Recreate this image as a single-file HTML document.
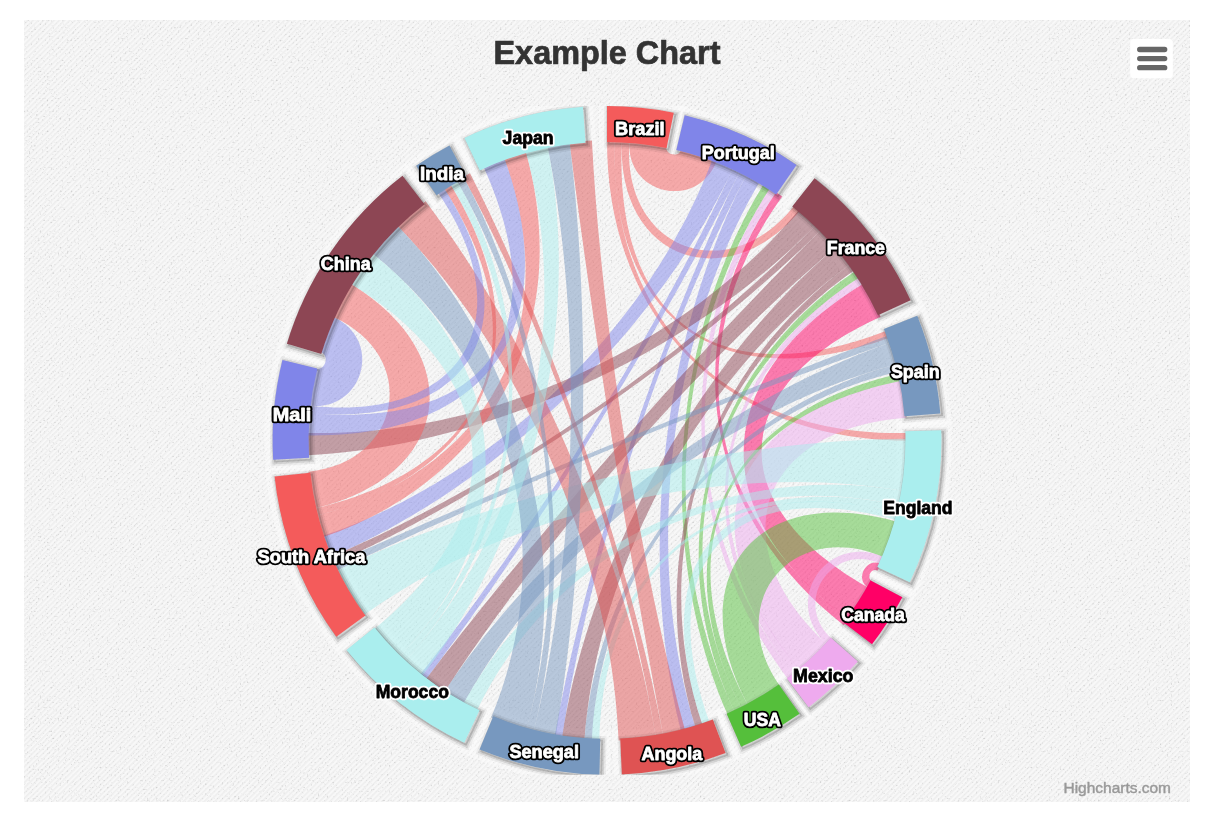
<!DOCTYPE html>
<html>
<head>
<meta charset="utf-8">
<title>Example Chart</title>
<style>
html,body{margin:0;padding:0;background:#ffffff;}
body{width:1212px;height:822px;overflow:hidden;position:relative;font-family:"Liberation Sans",sans-serif;}
#chart{position:absolute;left:24px;top:20px;width:1166px;height:782px;background:#f2f2f2;overflow:hidden;}
svg{position:absolute;left:0;top:0;}
</style>
</head>
<body>
<div id="chart"></div>
<svg width="1212" height="822" viewBox="0 0 1212 822">
<defs>
<pattern id="sand" width="3.7" height="3.7" patternUnits="userSpaceOnUse" patternTransform="rotate(-45)">
<rect width="3.7" height="3.7" fill="#f8f8f8"/>
<rect y="0" width="3.7" height="1.5" fill="#eeeeee"/>
</pattern>
<filter id="noise" x="0" y="0" width="100%" height="100%">
<feTurbulence type="fractalNoise" baseFrequency="0.55" numOctaves="1" seed="7" result="n"/>
<feColorMatrix type="matrix" values="0 0 0 0 0  0 0 0 0 0  0 0 0 0 0  3 0 0 0 -1.8"/>
</filter>
</defs>
<rect x="24" y="20" width="1166" height="782" fill="url(#sand)"/>
<rect x="24" y="20" width="1166" height="782" filter="url(#noise)" opacity="0.2"/>
<text x="607" y="64.4" text-anchor="middle" font-family="Liberation Sans, sans-serif" font-weight="bold" font-size="33" fill="#333333" stroke="#333333" stroke-width="0.7" opacity="0.999" textLength="227" lengthAdjust="spacingAndGlyphs">Example Chart</text>
<clipPath id="plot"><rect x="42" y="106" width="1130" height="668.8"/></clipPath>
<g clip-path="url(#plot)">
<g class="halo" fill="none" stroke="#ffffff" stroke-opacity="0.32" stroke-width="19" transform="translate(1.1,1.1)">
<path d="M607 106A334.4 334.4 0 0 1 673.73 112.73L666.56 147.93A298.47 298.47 0 0 0 607 141.93Z"/>
<path d="M684.66 115.14A334.4 334.4 0 0 1 796.56 164.92L776.2 194.52A298.47 298.47 0 0 0 676.32 150.09Z"/>
<path d="M814.57 178.22A334.4 334.4 0 0 1 910.63 300.28L878.01 315.34A298.47 298.47 0 0 0 792.27 206.39Z"/>
<path d="M917.28 315.7A334.4 334.4 0 0 1 940.31 413.42L904.5 416.32A298.47 298.47 0 0 0 883.94 329.1Z"/>
<path d="M941.24 430.18A334.4 334.4 0 0 1 909.8 582.29L877.27 567.05A298.47 298.47 0 0 0 905.33 431.28Z"/>
<path d="M902.3 597.32A334.4 334.4 0 0 1 872.02 644.33L843.55 622.42A298.47 298.47 0 0 0 870.57 580.46Z"/>
<path d="M857.78 661.61A334.4 334.4 0 0 1 808.59 707.2L786.93 678.54A298.47 298.47 0 0 0 830.84 637.84Z"/>
<path d="M799.55 713.8A334.4 334.4 0 0 1 741.12 746.73L726.71 713.81A298.47 298.47 0 0 0 778.86 684.43Z"/>
<path d="M725.57 753.07A334.4 334.4 0 0 1 621.83 774.47L620.24 738.58A298.47 298.47 0 0 0 712.83 719.48Z"/>
<path d="M599.44 774.71A334.4 334.4 0 0 1 479.58 749.57L493.27 716.35A298.47 298.47 0 0 0 600.25 738.8Z"/>
<path d="M464.22 742.79A334.4 334.4 0 0 1 346.48 650.05L374.47 627.52A298.47 298.47 0 0 0 479.56 710.3Z"/>
<path d="M336.28 636.71A334.4 334.4 0 0 1 274.56 476.58L310.28 472.69A298.47 298.47 0 0 0 365.37 615.61Z"/>
<path d="M273.17 459.84A334.4 334.4 0 0 1 282.44 359.88L317.31 368.53A298.47 298.47 0 0 0 309.03 457.75Z"/>
<path d="M286.89 343.69A334.4 334.4 0 0 1 402.52 175.81L424.49 204.24A298.47 298.47 0 0 0 321.28 354.08Z"/>
<path d="M416.06 165.87A334.4 334.4 0 0 1 449.47 145.43L466.39 177.12A298.47 298.47 0 0 0 436.57 195.37Z"/>
<path d="M464.47 137.9A334.4 334.4 0 0 1 582.95 106.87L585.53 142.7A298.47 298.47 0 0 0 479.79 170.4Z"/>
</g>
<g class="links">
<path d="M629.42 140.97A298.47 298.47 0 0 1 666.44 146.07C664.64 154.94 678.9 158.2 681.14 149.43A298.47 298.47 0 0 1 716.71 160.89C697.01 211.08 625.39 194.74 629.42 140.97Z" fill="#f45b5b" fill-opacity="0.5"/>
<path d="M621.95 140.5A298.47 298.47 0 0 1 629.42 140.97C621.36 248.51 726.99 289.97 794.24 205.66A298.47 298.47 0 0 1 800.03 210.4C724.93 299.88 616.13 257.18 621.95 140.5Z" fill="#f45b5b" fill-opacity="0.5"/>
<path d="M614.48 140.22A298.47 298.47 0 0 1 621.95 140.5C612.98 320.44 718.8 396.52 886.51 330.69A298.47 298.47 0 0 1 889.16 337.69C719.86 399.32 609.99 320.33 614.48 140.22Z" fill="#f45b5b" fill-opacity="0.5"/>
<path d="M607 140.13A298.47 298.47 0 0 1 614.48 140.22C609.99 320.33 727.07 437.41 907.18 432.92A298.47 298.47 0 0 1 907.27 440.4C727.11 440.4 607 320.29 607 140.13Z" fill="#f45b5b" fill-opacity="0.5"/>
<path d="M848.22 619.21A298.47 298.47 0 0 1 843.69 625.16C701.68 514.3 674.64 341.15 776.09 192.27A298.47 298.47 0 0 1 782.22 196.56C677.09 342.86 703.49 511.92 848.22 619.21Z" fill="#ff0066" fill-opacity="0.5"/>
<path d="M868.57 587.86A298.47 298.47 0 0 1 848.22 619.21C703.49 511.92 709.47 377.75 863.18 283.77A298.47 298.47 0 0 1 880.65 316.8C726.71 386.33 721.42 504.91 868.57 587.86Z" fill="#ff0066" fill-opacity="0.5"/>
<path d="M872.16 581.3A298.47 298.47 0 0 1 868.57 587.86C854.45 579.9 865.98 557.12 880.75 563.78A298.47 298.47 0 0 1 877.59 570.55C871.08 567.42 865.77 577.91 872.16 581.3Z" fill="#ff0066" fill-opacity="0.5"/>
<path d="M794.31 675.08A298.47 298.47 0 0 1 788.41 679.67C679.56 536.11 672.14 339.49 769.86 188.14A298.47 298.47 0 0 1 776.09 192.27C674.64 341.15 681.93 534.27 794.31 675.08Z" fill="#eeaaee" fill-opacity="0.5"/>
<path d="M800.1 670.34A298.47 298.47 0 0 1 794.31 675.08C681.93 534.27 707.88 375.21 859.2 277.43A298.47 298.47 0 0 1 863.18 283.77C709.47 377.75 684.24 532.38 800.1 670.34Z" fill="#eeaaee" fill-opacity="0.5"/>
<path d="M827.17 644.58A298.47 298.47 0 0 1 800.1 670.34C684.24 532.38 724.72 416.58 901.3 380.84A298.47 298.47 0 0 1 906.42 417.86C758.59 428.99 718.47 543.77 827.17 644.58Z" fill="#eeaaee" fill-opacity="0.5"/>
<path d="M832.18 639.03A298.47 298.47 0 0 1 827.17 644.58C781.03 601.79 825.75 532.5 883.74 556.92A298.47 298.47 0 0 1 880.75 563.78C831.57 541.61 791.73 603.35 832.18 639.03Z" fill="#eeaaee" fill-opacity="0.5"/>
<path d="M734.69 712.17A298.47 298.47 0 0 1 727.88 715.26C655.35 550.34 669.61 337.9 763.53 184.16A298.47 298.47 0 0 1 769.86 188.14C672.14 339.49 658.08 549.11 734.69 712.17Z" fill="#55BF3B" fill-opacity="0.5"/>
<path d="M741.42 708.9A298.47 298.47 0 0 1 734.69 712.17C658.08 549.11 706.22 372.72 855.06 271.2A298.47 298.47 0 0 1 859.2 277.43C707.88 375.21 660.77 547.8 741.42 708.9Z" fill="#55BF3B" fill-opacity="0.5"/>
<path d="M748.06 705.47A298.47 298.47 0 0 1 741.42 708.9C660.77 547.8 724.09 413.65 899.73 373.53A298.47 298.47 0 0 1 901.3 380.84C724.72 416.58 663.42 546.43 748.06 705.47Z" fill="#55BF3B" fill-opacity="0.5"/>
<path d="M779.9 685.9A298.47 298.47 0 0 1 748.06 705.47C679.69 577 755.97 482.27 896.07 521.64A298.47 298.47 0 0 1 883.74 556.92C790.97 517.86 721.94 603.6 779.9 685.9Z" fill="#55BF3B" fill-opacity="0.5"/>
<path d="M746.58 174.54A298.47 298.47 0 0 1 759.64 181.82C668.06 336.97 642.37 555.18 695.42 727.36A298.47 298.47 0 0 1 681.02 731.4C636.61 556.8 662.83 334.06 746.58 174.54Z" fill="#8085e9" fill-opacity="0.5"/>
<path d="M739.91 171.15A298.47 298.47 0 0 1 746.58 174.54C662.83 334.06 589.07 559.16 562.17 737.3A298.47 298.47 0 0 1 554.79 736.09C586.12 558.68 660.17 332.7 739.91 171.15Z" fill="#8085e9" fill-opacity="0.5"/>
<path d="M733.17 167.92A298.47 298.47 0 0 1 739.91 171.15C660.17 332.7 534.46 536.13 425.66 679.73A298.47 298.47 0 0 1 419.76 675.14C532.1 534.29 657.47 331.41 733.17 167.92Z" fill="#8085e9" fill-opacity="0.5"/>
<path d="M712.47 159.27A298.47 298.47 0 0 1 733.17 167.92C657.47 331.41 496.32 487.05 330.31 557.03A298.47 298.47 0 0 1 322.37 536.05C493.15 478.66 649.19 327.95 712.47 159.27Z" fill="#8085e9" fill-opacity="0.5"/>
<path d="M850.13 264.19A298.47 298.47 0 0 1 854.44 270.3C705.98 372.36 645.21 554.27 702.53 725.06A298.47 298.47 0 0 1 695.42 727.36C642.37 555.18 704.25 369.92 850.13 264.19Z" fill="#8d4654" fill-opacity="0.5"/>
<path d="M836.3 246.53A298.47 298.47 0 0 1 850.13 264.19C704.25 369.92 597.98 560.17 584.46 739.82A298.47 298.47 0 0 1 562.17 737.3C589.07 559.16 698.72 362.85 836.3 246.53Z" fill="#8d4654" fill-opacity="0.5"/>
<path d="M799.19 209.7A298.47 298.47 0 0 1 815.88 224.69C690.55 354.12 487.04 446.38 307.1 455.35A298.47 298.47 0 0 1 306.82 432.92C486.93 437.41 683.88 348.12 799.19 209.7Z" fill="#8d4654" fill-opacity="0.5"/>
<path d="M821.18 229.96A298.47 298.47 0 0 1 836.3 246.53C698.72 362.85 541.81 541.28 444.03 692.6A298.47 298.47 0 0 1 425.66 679.73C534.46 536.13 692.67 356.22 821.18 229.96Z" fill="#8d4654" fill-opacity="0.5"/>
<path d="M815.88 224.69A298.47 298.47 0 0 1 821.18 229.96C692.67 356.22 497.52 489.8 333.3 563.89A298.47 298.47 0 0 1 330.31 557.03C496.32 487.05 690.55 354.12 815.88 224.69Z" fill="#8d4654" fill-opacity="0.5"/>
<path d="M897.36 363.9A298.47 298.47 0 0 1 899.18 371.16C723.87 412.7 600.97 560.36 591.93 740.29A298.47 298.47 0 0 1 584.46 739.82C597.98 560.17 723.14 409.8 897.36 363.9Z" fill="#7798BF" fill-opacity="0.5"/>
<path d="M890.84 342.44A298.47 298.47 0 0 1 897.36 363.9C723.14 409.8 549.53 545.86 463.32 704.06A298.47 298.47 0 0 1 444.03 692.6C541.81 541.28 720.54 401.22 890.84 342.44Z" fill="#7798BF" fill-opacity="0.5"/>
<path d="M888.31 335.4A298.47 298.47 0 0 1 890.84 342.44C720.54 401.22 498.78 492.51 336.46 570.67A298.47 298.47 0 0 1 333.3 563.89C497.52 489.8 719.53 398.4 888.31 335.4Z" fill="#7798BF" fill-opacity="0.5"/>
<path d="M898.42 512.77A298.47 298.47 0 0 1 896.52 520.01C730.84 474.45 650.88 561.11 709.59 722.6A298.47 298.47 0 0 1 702.53 725.06C645.21 554.27 723.57 469.35 898.42 512.77Z" fill="#aaeeee" fill-opacity="0.5"/>
<path d="M900.13 505.49A298.47 298.47 0 0 1 898.42 512.77C723.57 469.35 603.96 560.47 599.4 740.57A298.47 298.47 0 0 1 591.93 740.29C600.97 560.36 724.25 466.44 900.13 505.49Z" fill="#aaeeee" fill-opacity="0.5"/>
<path d="M903.01 490.82A298.47 298.47 0 0 1 900.13 505.49C724.25 466.44 554.85 548.59 476.62 710.89A298.47 298.47 0 0 1 463.32 704.06C549.53 545.86 725.4 460.57 903.01 490.82Z" fill="#aaeeee" fill-opacity="0.5"/>
<path d="M907.26 438.7A298.47 298.47 0 0 1 903.01 490.82C725.4 460.57 509.46 510.49 363.16 615.62A298.47 298.47 0 0 1 336.46 570.67C498.78 492.51 727.11 439.72 907.26 438.7Z" fill="#aaeeee" fill-opacity="0.5"/>
<path d="M314.56 508.53A298.47 298.47 0 0 1 308.36 471.68C403 461.76 420.04 356.05 333.3 316.91A298.47 298.47 0 0 1 350.76 283.87C470.26 356.87 450.94 476.76 314.56 508.53Z" fill="#f45b5b" fill-opacity="0.5"/>
<path d="M316.35 515.79A298.47 298.47 0 0 1 314.56 508.53C490.03 467.65 541.81 339.52 444.03 188.2A298.47 298.47 0 0 1 450.37 184.22C544.35 337.93 490.74 470.56 316.35 515.79Z" fill="#f45b5b" fill-opacity="0.5"/>
<path d="M322.79 537.28A298.47 298.47 0 0 1 316.35 515.79C490.74 470.56 565.92 327.54 504.29 158.24A298.47 298.47 0 0 1 525.64 151.36C574.46 324.79 493.32 479.15 322.79 537.28Z" fill="#f45b5b" fill-opacity="0.5"/>
<path d="M655.79 736.68A298.47 298.47 0 0 1 618.61 740.44C611.64 560.42 523.1 354.45 397.25 225.54A298.47 298.47 0 0 1 425.56 201.15C534.43 344.7 626.51 558.91 655.79 736.68Z" fill="#DF5353" fill-opacity="0.5"/>
<path d="M663.15 735.37A298.47 298.47 0 0 1 655.79 736.68C626.51 558.91 549.53 334.94 463.32 176.74A298.47 298.47 0 0 1 469.93 173.24C552.17 333.54 629.46 558.39 663.15 735.37Z" fill="#DF5353" fill-opacity="0.5"/>
<path d="M685.01 730.36A298.47 298.47 0 0 1 663.15 735.37C629.46 558.39 592.03 321.23 569.58 142.47A298.47 298.47 0 0 1 591.93 140.51C600.97 320.44 638.21 556.38 685.01 730.36Z" fill="#DF5353" fill-opacity="0.5"/>
<path d="M526.42 729.66A298.47 298.47 0 0 1 491.12 717.41C560.65 551.2 513.07 365.54 372.19 253.25A298.47 298.47 0 0 1 397.25 225.54C523.1 354.45 574.77 556.1 526.42 729.66Z" fill="#7798BF" fill-opacity="0.5"/>
<path d="M533.65 731.57A298.47 298.47 0 0 1 526.42 729.66C574.77 556.1 546.92 336.4 456.79 180.4A298.47 298.47 0 0 1 463.32 176.74C549.53 334.94 577.66 556.87 533.65 731.57Z" fill="#7798BF" fill-opacity="0.5"/>
<path d="M555.59 736.24A298.47 298.47 0 0 1 533.65 731.57C577.66 556.87 583.18 322.68 547.44 146.1A298.47 298.47 0 0 1 569.58 142.47C592.03 321.23 586.44 558.73 555.59 736.24Z" fill="#7798BF" fill-opacity="0.5"/>
<path d="M308.76 405.6A298.47 298.47 0 0 1 315.39 368.82C325.64 371.34 330.17 354.98 320.08 351.87A298.47 298.47 0 0 1 333.3 316.91C383.82 339.71 363.81 412.02 308.76 405.6Z" fill="#8085e9" fill-opacity="0.5"/>
<path d="M307.98 413.03A298.47 298.47 0 0 1 308.76 405.6C461.94 423.47 524.71 319.75 437.8 192.34A298.47 298.47 0 0 1 444.03 188.2C532.61 325.27 470.5 427.91 307.98 413.03Z" fill="#8085e9" fill-opacity="0.5"/>
<path d="M306.77 435.43A298.47 298.47 0 0 1 307.98 413.03C487.39 429.45 557.6 330.92 483.51 166.7A298.47 298.47 0 0 1 504.29 158.24C565.92 327.54 486.91 438.41 306.77 435.43Z" fill="#8085e9" fill-opacity="0.5"/>
<path d="M399.07 657.02A298.47 298.47 0 0 1 373.77 629.51C513.71 516.05 504.5 377.79 350.76 283.87A298.47 298.47 0 0 1 372.19 253.25C513.07 365.54 523.83 527.05 399.07 657.02Z" fill="#aaeeee" fill-opacity="0.5"/>
<path d="M404.53 662.13A298.47 298.47 0 0 1 399.07 657.02C523.83 527.05 544.35 337.93 450.37 184.22A298.47 298.47 0 0 1 456.79 180.4C546.92 336.4 526.01 529.09 404.53 662.13Z" fill="#aaeeee" fill-opacity="0.5"/>
<path d="M421.64 676.63A298.47 298.47 0 0 1 404.53 662.13C526.01 529.09 574.46 324.79 525.64 151.36A298.47 298.47 0 0 1 547.44 146.1C583.18 322.68 532.86 534.89 421.64 676.63Z" fill="#aaeeee" fill-opacity="0.5"/>
</g>
<g class="nodes">
<path d="M607 106A334.4 334.4 0 0 1 673.73 112.73L666.56 147.93A298.47 298.47 0 0 0 607 141.93Z" fill="none" stroke="#000" stroke-opacity="0.05" stroke-width="8.98" transform="translate(1.7964,1.7964)"/>
<path d="M607 106A334.4 334.4 0 0 1 673.73 112.73L666.56 147.93A298.47 298.47 0 0 0 607 141.93Z" fill="none" stroke="#000" stroke-opacity="0.1" stroke-width="5.39" transform="translate(1.7964,1.7964)"/>
<path d="M607 106A334.4 334.4 0 0 1 673.73 112.73L666.56 147.93A298.47 298.47 0 0 0 607 141.93Z" fill="none" stroke="#000" stroke-opacity="0.15" stroke-width="1.8" transform="translate(1.7964,1.7964)"/>
<path d="M607 106A334.4 334.4 0 0 1 673.73 112.73L666.56 147.93A298.47 298.47 0 0 0 607 141.93Z" fill="#f45b5b"/>
<path d="M684.66 115.14A334.4 334.4 0 0 1 796.56 164.92L776.2 194.52A298.47 298.47 0 0 0 676.32 150.09Z" fill="none" stroke="#000" stroke-opacity="0.05" stroke-width="8.98" transform="translate(1.7964,1.7964)"/>
<path d="M684.66 115.14A334.4 334.4 0 0 1 796.56 164.92L776.2 194.52A298.47 298.47 0 0 0 676.32 150.09Z" fill="none" stroke="#000" stroke-opacity="0.1" stroke-width="5.39" transform="translate(1.7964,1.7964)"/>
<path d="M684.66 115.14A334.4 334.4 0 0 1 796.56 164.92L776.2 194.52A298.47 298.47 0 0 0 676.32 150.09Z" fill="none" stroke="#000" stroke-opacity="0.15" stroke-width="1.8" transform="translate(1.7964,1.7964)"/>
<path d="M684.66 115.14A334.4 334.4 0 0 1 796.56 164.92L776.2 194.52A298.47 298.47 0 0 0 676.32 150.09Z" fill="#8085e9"/>
<path d="M814.57 178.22A334.4 334.4 0 0 1 910.63 300.28L878.01 315.34A298.47 298.47 0 0 0 792.27 206.39Z" fill="none" stroke="#000" stroke-opacity="0.05" stroke-width="8.98" transform="translate(1.7964,1.7964)"/>
<path d="M814.57 178.22A334.4 334.4 0 0 1 910.63 300.28L878.01 315.34A298.47 298.47 0 0 0 792.27 206.39Z" fill="none" stroke="#000" stroke-opacity="0.1" stroke-width="5.39" transform="translate(1.7964,1.7964)"/>
<path d="M814.57 178.22A334.4 334.4 0 0 1 910.63 300.28L878.01 315.34A298.47 298.47 0 0 0 792.27 206.39Z" fill="none" stroke="#000" stroke-opacity="0.15" stroke-width="1.8" transform="translate(1.7964,1.7964)"/>
<path d="M814.57 178.22A334.4 334.4 0 0 1 910.63 300.28L878.01 315.34A298.47 298.47 0 0 0 792.27 206.39Z" fill="#8d4654"/>
<path d="M917.28 315.7A334.4 334.4 0 0 1 940.31 413.42L904.5 416.32A298.47 298.47 0 0 0 883.94 329.1Z" fill="none" stroke="#000" stroke-opacity="0.05" stroke-width="8.98" transform="translate(1.7964,1.7964)"/>
<path d="M917.28 315.7A334.4 334.4 0 0 1 940.31 413.42L904.5 416.32A298.47 298.47 0 0 0 883.94 329.1Z" fill="none" stroke="#000" stroke-opacity="0.1" stroke-width="5.39" transform="translate(1.7964,1.7964)"/>
<path d="M917.28 315.7A334.4 334.4 0 0 1 940.31 413.42L904.5 416.32A298.47 298.47 0 0 0 883.94 329.1Z" fill="none" stroke="#000" stroke-opacity="0.15" stroke-width="1.8" transform="translate(1.7964,1.7964)"/>
<path d="M917.28 315.7A334.4 334.4 0 0 1 940.31 413.42L904.5 416.32A298.47 298.47 0 0 0 883.94 329.1Z" fill="#7798BF"/>
<path d="M941.24 430.18A334.4 334.4 0 0 1 909.8 582.29L877.27 567.05A298.47 298.47 0 0 0 905.33 431.28Z" fill="none" stroke="#000" stroke-opacity="0.05" stroke-width="8.98" transform="translate(1.7964,1.7964)"/>
<path d="M941.24 430.18A334.4 334.4 0 0 1 909.8 582.29L877.27 567.05A298.47 298.47 0 0 0 905.33 431.28Z" fill="none" stroke="#000" stroke-opacity="0.1" stroke-width="5.39" transform="translate(1.7964,1.7964)"/>
<path d="M941.24 430.18A334.4 334.4 0 0 1 909.8 582.29L877.27 567.05A298.47 298.47 0 0 0 905.33 431.28Z" fill="none" stroke="#000" stroke-opacity="0.15" stroke-width="1.8" transform="translate(1.7964,1.7964)"/>
<path d="M941.24 430.18A334.4 334.4 0 0 1 909.8 582.29L877.27 567.05A298.47 298.47 0 0 0 905.33 431.28Z" fill="#aaeeee"/>
<path d="M902.3 597.32A334.4 334.4 0 0 1 872.02 644.33L843.55 622.42A298.47 298.47 0 0 0 870.57 580.46Z" fill="none" stroke="#000" stroke-opacity="0.05" stroke-width="8.98" transform="translate(1.7964,1.7964)"/>
<path d="M902.3 597.32A334.4 334.4 0 0 1 872.02 644.33L843.55 622.42A298.47 298.47 0 0 0 870.57 580.46Z" fill="none" stroke="#000" stroke-opacity="0.1" stroke-width="5.39" transform="translate(1.7964,1.7964)"/>
<path d="M902.3 597.32A334.4 334.4 0 0 1 872.02 644.33L843.55 622.42A298.47 298.47 0 0 0 870.57 580.46Z" fill="none" stroke="#000" stroke-opacity="0.15" stroke-width="1.8" transform="translate(1.7964,1.7964)"/>
<path d="M902.3 597.32A334.4 334.4 0 0 1 872.02 644.33L843.55 622.42A298.47 298.47 0 0 0 870.57 580.46Z" fill="#ff0066"/>
<path d="M857.78 661.61A334.4 334.4 0 0 1 808.59 707.2L786.93 678.54A298.47 298.47 0 0 0 830.84 637.84Z" fill="none" stroke="#000" stroke-opacity="0.05" stroke-width="8.98" transform="translate(1.7964,1.7964)"/>
<path d="M857.78 661.61A334.4 334.4 0 0 1 808.59 707.2L786.93 678.54A298.47 298.47 0 0 0 830.84 637.84Z" fill="none" stroke="#000" stroke-opacity="0.1" stroke-width="5.39" transform="translate(1.7964,1.7964)"/>
<path d="M857.78 661.61A334.4 334.4 0 0 1 808.59 707.2L786.93 678.54A298.47 298.47 0 0 0 830.84 637.84Z" fill="none" stroke="#000" stroke-opacity="0.15" stroke-width="1.8" transform="translate(1.7964,1.7964)"/>
<path d="M857.78 661.61A334.4 334.4 0 0 1 808.59 707.2L786.93 678.54A298.47 298.47 0 0 0 830.84 637.84Z" fill="#eeaaee"/>
<path d="M799.55 713.8A334.4 334.4 0 0 1 741.12 746.73L726.71 713.81A298.47 298.47 0 0 0 778.86 684.43Z" fill="none" stroke="#000" stroke-opacity="0.05" stroke-width="8.98" transform="translate(1.7964,1.7964)"/>
<path d="M799.55 713.8A334.4 334.4 0 0 1 741.12 746.73L726.71 713.81A298.47 298.47 0 0 0 778.86 684.43Z" fill="none" stroke="#000" stroke-opacity="0.1" stroke-width="5.39" transform="translate(1.7964,1.7964)"/>
<path d="M799.55 713.8A334.4 334.4 0 0 1 741.12 746.73L726.71 713.81A298.47 298.47 0 0 0 778.86 684.43Z" fill="none" stroke="#000" stroke-opacity="0.15" stroke-width="1.8" transform="translate(1.7964,1.7964)"/>
<path d="M799.55 713.8A334.4 334.4 0 0 1 741.12 746.73L726.71 713.81A298.47 298.47 0 0 0 778.86 684.43Z" fill="#55BF3B"/>
<path d="M725.57 753.07A334.4 334.4 0 0 1 621.83 774.47L620.24 738.58A298.47 298.47 0 0 0 712.83 719.48Z" fill="none" stroke="#000" stroke-opacity="0.05" stroke-width="8.98" transform="translate(1.7964,1.7964)"/>
<path d="M725.57 753.07A334.4 334.4 0 0 1 621.83 774.47L620.24 738.58A298.47 298.47 0 0 0 712.83 719.48Z" fill="none" stroke="#000" stroke-opacity="0.1" stroke-width="5.39" transform="translate(1.7964,1.7964)"/>
<path d="M725.57 753.07A334.4 334.4 0 0 1 621.83 774.47L620.24 738.58A298.47 298.47 0 0 0 712.83 719.48Z" fill="none" stroke="#000" stroke-opacity="0.15" stroke-width="1.8" transform="translate(1.7964,1.7964)"/>
<path d="M725.57 753.07A334.4 334.4 0 0 1 621.83 774.47L620.24 738.58A298.47 298.47 0 0 0 712.83 719.48Z" fill="#DF5353"/>
<path d="M599.44 774.71A334.4 334.4 0 0 1 479.58 749.57L493.27 716.35A298.47 298.47 0 0 0 600.25 738.8Z" fill="none" stroke="#000" stroke-opacity="0.05" stroke-width="8.98" transform="translate(1.7964,1.7964)"/>
<path d="M599.44 774.71A334.4 334.4 0 0 1 479.58 749.57L493.27 716.35A298.47 298.47 0 0 0 600.25 738.8Z" fill="none" stroke="#000" stroke-opacity="0.1" stroke-width="5.39" transform="translate(1.7964,1.7964)"/>
<path d="M599.44 774.71A334.4 334.4 0 0 1 479.58 749.57L493.27 716.35A298.47 298.47 0 0 0 600.25 738.8Z" fill="none" stroke="#000" stroke-opacity="0.15" stroke-width="1.8" transform="translate(1.7964,1.7964)"/>
<path d="M599.44 774.71A334.4 334.4 0 0 1 479.58 749.57L493.27 716.35A298.47 298.47 0 0 0 600.25 738.8Z" fill="#7798BF"/>
<path d="M464.22 742.79A334.4 334.4 0 0 1 346.48 650.05L374.47 627.52A298.47 298.47 0 0 0 479.56 710.3Z" fill="none" stroke="#000" stroke-opacity="0.05" stroke-width="8.98" transform="translate(1.7964,1.7964)"/>
<path d="M464.22 742.79A334.4 334.4 0 0 1 346.48 650.05L374.47 627.52A298.47 298.47 0 0 0 479.56 710.3Z" fill="none" stroke="#000" stroke-opacity="0.1" stroke-width="5.39" transform="translate(1.7964,1.7964)"/>
<path d="M464.22 742.79A334.4 334.4 0 0 1 346.48 650.05L374.47 627.52A298.47 298.47 0 0 0 479.56 710.3Z" fill="none" stroke="#000" stroke-opacity="0.15" stroke-width="1.8" transform="translate(1.7964,1.7964)"/>
<path d="M464.22 742.79A334.4 334.4 0 0 1 346.48 650.05L374.47 627.52A298.47 298.47 0 0 0 479.56 710.3Z" fill="#aaeeee"/>
<path d="M336.28 636.71A334.4 334.4 0 0 1 274.56 476.58L310.28 472.69A298.47 298.47 0 0 0 365.37 615.61Z" fill="none" stroke="#000" stroke-opacity="0.05" stroke-width="8.98" transform="translate(1.7964,1.7964)"/>
<path d="M336.28 636.71A334.4 334.4 0 0 1 274.56 476.58L310.28 472.69A298.47 298.47 0 0 0 365.37 615.61Z" fill="none" stroke="#000" stroke-opacity="0.1" stroke-width="5.39" transform="translate(1.7964,1.7964)"/>
<path d="M336.28 636.71A334.4 334.4 0 0 1 274.56 476.58L310.28 472.69A298.47 298.47 0 0 0 365.37 615.61Z" fill="none" stroke="#000" stroke-opacity="0.15" stroke-width="1.8" transform="translate(1.7964,1.7964)"/>
<path d="M336.28 636.71A334.4 334.4 0 0 1 274.56 476.58L310.28 472.69A298.47 298.47 0 0 0 365.37 615.61Z" fill="#f45b5b"/>
<path d="M273.17 459.84A334.4 334.4 0 0 1 282.44 359.88L317.31 368.53A298.47 298.47 0 0 0 309.03 457.75Z" fill="none" stroke="#000" stroke-opacity="0.05" stroke-width="8.98" transform="translate(1.7964,1.7964)"/>
<path d="M273.17 459.84A334.4 334.4 0 0 1 282.44 359.88L317.31 368.53A298.47 298.47 0 0 0 309.03 457.75Z" fill="none" stroke="#000" stroke-opacity="0.1" stroke-width="5.39" transform="translate(1.7964,1.7964)"/>
<path d="M273.17 459.84A334.4 334.4 0 0 1 282.44 359.88L317.31 368.53A298.47 298.47 0 0 0 309.03 457.75Z" fill="none" stroke="#000" stroke-opacity="0.15" stroke-width="1.8" transform="translate(1.7964,1.7964)"/>
<path d="M273.17 459.84A334.4 334.4 0 0 1 282.44 359.88L317.31 368.53A298.47 298.47 0 0 0 309.03 457.75Z" fill="#8085e9"/>
<path d="M286.89 343.69A334.4 334.4 0 0 1 402.52 175.81L424.49 204.24A298.47 298.47 0 0 0 321.28 354.08Z" fill="none" stroke="#000" stroke-opacity="0.05" stroke-width="8.98" transform="translate(1.7964,1.7964)"/>
<path d="M286.89 343.69A334.4 334.4 0 0 1 402.52 175.81L424.49 204.24A298.47 298.47 0 0 0 321.28 354.08Z" fill="none" stroke="#000" stroke-opacity="0.1" stroke-width="5.39" transform="translate(1.7964,1.7964)"/>
<path d="M286.89 343.69A334.4 334.4 0 0 1 402.52 175.81L424.49 204.24A298.47 298.47 0 0 0 321.28 354.08Z" fill="none" stroke="#000" stroke-opacity="0.15" stroke-width="1.8" transform="translate(1.7964,1.7964)"/>
<path d="M286.89 343.69A334.4 334.4 0 0 1 402.52 175.81L424.49 204.24A298.47 298.47 0 0 0 321.28 354.08Z" fill="#8d4654"/>
<path d="M416.06 165.87A334.4 334.4 0 0 1 449.47 145.43L466.39 177.12A298.47 298.47 0 0 0 436.57 195.37Z" fill="none" stroke="#000" stroke-opacity="0.05" stroke-width="8.98" transform="translate(1.7964,1.7964)"/>
<path d="M416.06 165.87A334.4 334.4 0 0 1 449.47 145.43L466.39 177.12A298.47 298.47 0 0 0 436.57 195.37Z" fill="none" stroke="#000" stroke-opacity="0.1" stroke-width="5.39" transform="translate(1.7964,1.7964)"/>
<path d="M416.06 165.87A334.4 334.4 0 0 1 449.47 145.43L466.39 177.12A298.47 298.47 0 0 0 436.57 195.37Z" fill="none" stroke="#000" stroke-opacity="0.15" stroke-width="1.8" transform="translate(1.7964,1.7964)"/>
<path d="M416.06 165.87A334.4 334.4 0 0 1 449.47 145.43L466.39 177.12A298.47 298.47 0 0 0 436.57 195.37Z" fill="#7798BF"/>
<path d="M464.47 137.9A334.4 334.4 0 0 1 582.95 106.87L585.53 142.7A298.47 298.47 0 0 0 479.79 170.4Z" fill="none" stroke="#000" stroke-opacity="0.05" stroke-width="8.98" transform="translate(1.7964,1.7964)"/>
<path d="M464.47 137.9A334.4 334.4 0 0 1 582.95 106.87L585.53 142.7A298.47 298.47 0 0 0 479.79 170.4Z" fill="none" stroke="#000" stroke-opacity="0.1" stroke-width="5.39" transform="translate(1.7964,1.7964)"/>
<path d="M464.47 137.9A334.4 334.4 0 0 1 582.95 106.87L585.53 142.7A298.47 298.47 0 0 0 479.79 170.4Z" fill="none" stroke="#000" stroke-opacity="0.15" stroke-width="1.8" transform="translate(1.7964,1.7964)"/>
<path d="M464.47 137.9A334.4 334.4 0 0 1 582.95 106.87L585.53 142.7A298.47 298.47 0 0 0 479.79 170.4Z" fill="#aaeeee"/>
</g>
</g>
<g class="labels" font-family="Liberation Sans, sans-serif" font-weight="bold" font-size="18.8" text-anchor="middle" opacity="0.999">
<text x="639.9" y="134.7" fill="#000000" stroke="#000000" stroke-width="4.7" stroke-linejoin="round" textLength="49.6" lengthAdjust="spacingAndGlyphs">Brazil</text>
<text x="639.9" y="134.7" fill="#FFFFFF" stroke="#FFFFFF" stroke-width="0.8" stroke-linejoin="round" textLength="49.6" lengthAdjust="spacingAndGlyphs">Brazil</text>
<text x="738.2" y="159.4" fill="#000000" stroke="#000000" stroke-width="4.7" stroke-linejoin="round" textLength="73.1" lengthAdjust="spacingAndGlyphs">Portugal</text>
<text x="738.2" y="159.4" fill="#FFFFFF" stroke="#FFFFFF" stroke-width="0.8" stroke-linejoin="round" textLength="73.1" lengthAdjust="spacingAndGlyphs">Portugal</text>
<text x="855.9" y="253.9" fill="#000000" stroke="#000000" stroke-width="4.7" stroke-linejoin="round" textLength="58.2" lengthAdjust="spacingAndGlyphs">France</text>
<text x="855.9" y="253.9" fill="#FFFFFF" stroke="#FFFFFF" stroke-width="0.8" stroke-linejoin="round" textLength="58.2" lengthAdjust="spacingAndGlyphs">France</text>
<text x="915.3" y="377.7" fill="#000000" stroke="#000000" stroke-width="4.7" stroke-linejoin="round" textLength="48.8" lengthAdjust="spacingAndGlyphs">Spain</text>
<text x="915.3" y="377.7" fill="#FFFFFF" stroke="#FFFFFF" stroke-width="0.8" stroke-linejoin="round" textLength="48.8" lengthAdjust="spacingAndGlyphs">Spain</text>
<text x="917.9" y="513.8" fill="#FFFFFF" stroke="#FFFFFF" stroke-width="4.7" stroke-linejoin="round" textLength="69.3" lengthAdjust="spacingAndGlyphs">England</text>
<text x="917.9" y="513.8" fill="#000000" stroke="#000000" stroke-width="0.8" stroke-linejoin="round" textLength="69.3" lengthAdjust="spacingAndGlyphs">England</text>
<text x="873" y="621.4" fill="#000000" stroke="#000000" stroke-width="4.7" stroke-linejoin="round" textLength="63.6" lengthAdjust="spacingAndGlyphs">Canada</text>
<text x="873" y="621.4" fill="#FFFFFF" stroke="#FFFFFF" stroke-width="0.8" stroke-linejoin="round" textLength="63.6" lengthAdjust="spacingAndGlyphs">Canada</text>
<text x="823.3" y="681.5" fill="#FFFFFF" stroke="#FFFFFF" stroke-width="4.7" stroke-linejoin="round" textLength="60.4" lengthAdjust="spacingAndGlyphs">Mexico</text>
<text x="823.3" y="681.5" fill="#000000" stroke="#000000" stroke-width="0.8" stroke-linejoin="round" textLength="60.4" lengthAdjust="spacingAndGlyphs">Mexico</text>
<text x="762.3" y="725.8" fill="#000000" stroke="#000000" stroke-width="4.7" stroke-linejoin="round" textLength="37.0" lengthAdjust="spacingAndGlyphs">USA</text>
<text x="762.3" y="725.8" fill="#FFFFFF" stroke="#FFFFFF" stroke-width="0.8" stroke-linejoin="round" textLength="37.0" lengthAdjust="spacingAndGlyphs">USA</text>
<text x="671.9" y="760.3" fill="#000000" stroke="#000000" stroke-width="4.7" stroke-linejoin="round" textLength="60.7" lengthAdjust="spacingAndGlyphs">Angola</text>
<text x="671.9" y="760.3" fill="#FFFFFF" stroke="#FFFFFF" stroke-width="0.8" stroke-linejoin="round" textLength="60.7" lengthAdjust="spacingAndGlyphs">Angola</text>
<text x="544.2" y="758.2" fill="#000000" stroke="#000000" stroke-width="4.7" stroke-linejoin="round" textLength="69.6" lengthAdjust="spacingAndGlyphs">Senegal</text>
<text x="544.2" y="758.2" fill="#FFFFFF" stroke="#FFFFFF" stroke-width="0.8" stroke-linejoin="round" textLength="69.6" lengthAdjust="spacingAndGlyphs">Senegal</text>
<text x="412.3" y="698" fill="#FFFFFF" stroke="#FFFFFF" stroke-width="4.7" stroke-linejoin="round" textLength="73.2" lengthAdjust="spacingAndGlyphs">Morocco</text>
<text x="412.3" y="698" fill="#000000" stroke="#000000" stroke-width="0.8" stroke-linejoin="round" textLength="73.2" lengthAdjust="spacingAndGlyphs">Morocco</text>
<text x="311.5" y="562.5" fill="#000000" stroke="#000000" stroke-width="4.7" stroke-linejoin="round" textLength="107.9" lengthAdjust="spacingAndGlyphs">South Africa</text>
<text x="311.5" y="562.5" fill="#FFFFFF" stroke="#FFFFFF" stroke-width="0.8" stroke-linejoin="round" textLength="107.9" lengthAdjust="spacingAndGlyphs">South Africa</text>
<text x="292" y="420.6" fill="#000000" stroke="#000000" stroke-width="4.7" stroke-linejoin="round" textLength="38.6" lengthAdjust="spacingAndGlyphs">Mali</text>
<text x="292" y="420.6" fill="#FFFFFF" stroke="#FFFFFF" stroke-width="0.8" stroke-linejoin="round" textLength="38.6" lengthAdjust="spacingAndGlyphs">Mali</text>
<text x="345.7" y="269.9" fill="#000000" stroke="#000000" stroke-width="4.7" stroke-linejoin="round" textLength="49.8" lengthAdjust="spacingAndGlyphs">China</text>
<text x="345.7" y="269.9" fill="#FFFFFF" stroke="#FFFFFF" stroke-width="0.8" stroke-linejoin="round" textLength="49.8" lengthAdjust="spacingAndGlyphs">China</text>
<text x="442" y="180" fill="#000000" stroke="#000000" stroke-width="4.7" stroke-linejoin="round" textLength="44.0" lengthAdjust="spacingAndGlyphs">India</text>
<text x="442" y="180" fill="#FFFFFF" stroke="#FFFFFF" stroke-width="0.8" stroke-linejoin="round" textLength="44.0" lengthAdjust="spacingAndGlyphs">India</text>
<text x="528.1" y="144.2" fill="#FFFFFF" stroke="#FFFFFF" stroke-width="4.7" stroke-linejoin="round" textLength="51.0" lengthAdjust="spacingAndGlyphs">Japan</text>
<text x="528.1" y="144.2" fill="#000000" stroke="#000000" stroke-width="0.8" stroke-linejoin="round" textLength="51.0" lengthAdjust="spacingAndGlyphs">Japan</text>
</g>
<g class="menu">
<rect x="1130.2" y="39" width="42.6" height="39.2" rx="3.6" fill="#ffffff"/>
<path d="M1139.7 49.5H1164.7M1139.7 58.6H1164.7M1139.7 67.7H1164.7" stroke="#666666" stroke-width="5.3" stroke-linecap="round" fill="none"/>
</g>
<text x="1171" y="792.7" text-anchor="end" font-family="Liberation Sans, sans-serif" font-size="15.5" fill="#999999" stroke="#999999" stroke-width="0.45" opacity="0.999" textLength="107.5" lengthAdjust="spacingAndGlyphs">Highcharts.com</text>
</svg>
</body>
</html>
